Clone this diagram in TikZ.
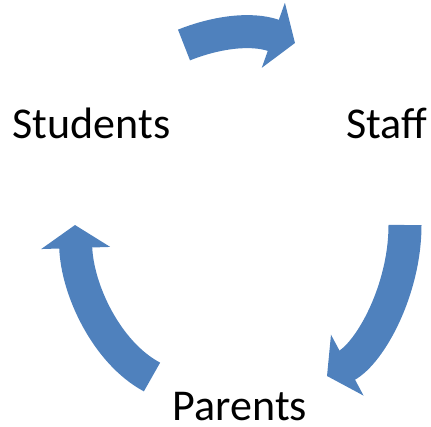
\documentclass[tikz,border=0pt]{standalone}
\usepackage{fontspec}
\setmainfont{Carlito}
\usetikzlibrary{arrows.meta, positioning}
\definecolor{cycleblue}{HTML}{4F81BD}

\begin{document}
\begin{tikzpicture}[
				x=1pt, y=-1pt,
				member/.style={
						font=\fontsize{44}{50}\selectfont,
						text=black,
						inner sep=0pt,
						anchor=base,
					},
				cyclearrow/.style={
						draw=cycleblue,
						line width=33pt,
						-{Triangle[length=23pt, width=68pt]},
					},
			]

			% Rahmen
			\useasboundingbox (0,0) rectangle (431,426);

			% Gruppen
			\node[member] (students) at (91.5,138) {Students};
			\node[member] (staff) at (387,138) {Staff};
			\node[member] (parents) at (240,420) {Parents};

			% Enden der Pfeile
			\coordinate (topstart) at (184,45);
			\coordinate (toptip) at (295,43);
			\coordinate (rightstart) at (405,225);
			\coordinate (righttip) at (327,376);
			\coordinate (leftstart) at (152,377);
			\coordinate (lefttip) at (75,225);

			% Pfeile im Kreis
			\draw[cyclearrow] (topstart) .. controls (214,33) and (250,27) .. (toptip);
			\draw[cyclearrow] (rightstart) .. controls (405,290) and (370,353) .. (righttip);
			\draw[cyclearrow] (leftstart) .. controls (107,353) and (77,290) .. (lefttip);

		\end{tikzpicture}
\end{document}
